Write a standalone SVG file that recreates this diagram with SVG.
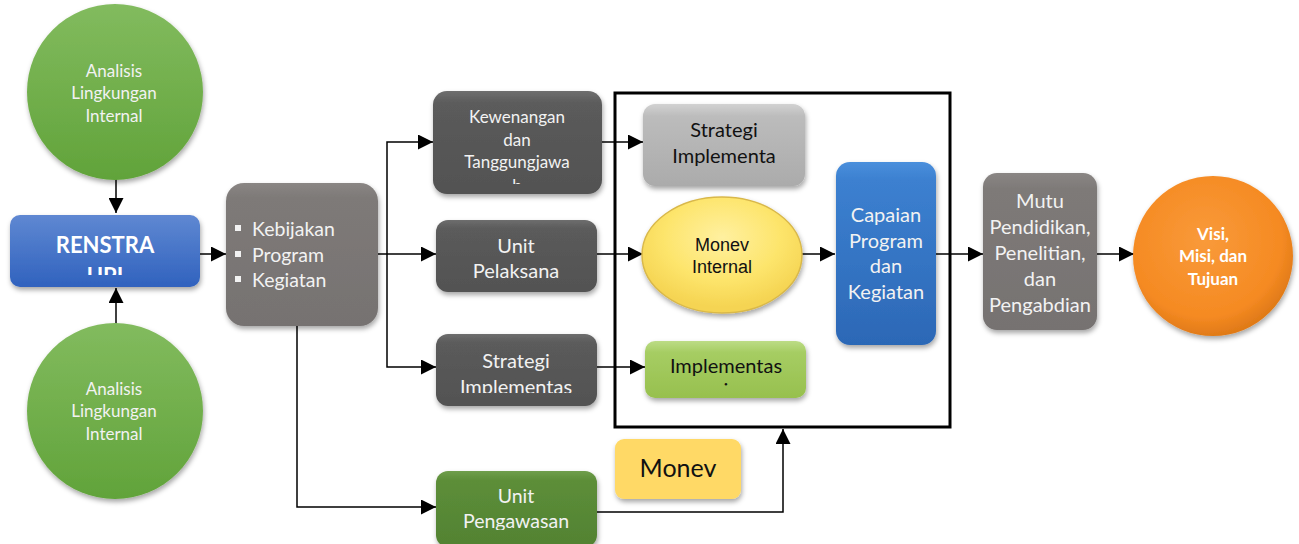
<svg xmlns="http://www.w3.org/2000/svg" width="1299" height="544" viewBox="0 0 1299 544">
<style>
.t{font-family:Lato,"Open Sans","Liberation Sans",sans-serif;text-anchor:middle}
.w{fill:#f2f2f2}
.k{fill:#111}
.c{fill:none;stroke:#000;stroke-width:1.5}
</style>
<defs>
<filter id="sh" x="-20%" y="-20%" width="140%" height="150%">
<feDropShadow dx="1" dy="3" stdDeviation="2.5" flood-color="#000" flood-opacity="0.35"/>
</filter>
<marker id="ar" viewBox="0 0 10 10" refX="10" refY="5" markerWidth="15" markerHeight="15" markerUnits="userSpaceOnUse" orient="auto">
<path d="M0,0 L10,5 L0,10 Z" fill="#000"/>
</marker>
<linearGradient id="gGreen" x1="0" y1="0" x2="0" y2="1"><stop offset="0" stop-color="#82bb5e"/><stop offset="1" stop-color="#61a33a"/></linearGradient>
<linearGradient id="gBlue" x1="0" y1="0" x2="0" y2="1"><stop offset="0" stop-color="#5f88d2"/><stop offset="1" stop-color="#3062be"/></linearGradient>
<linearGradient id="gGray" x1="0" y1="0" x2="0" y2="1"><stop offset="0" stop-color="#8a8684"/><stop offset="0.1" stop-color="#7e7a78"/><stop offset="1" stop-color="#767271"/></linearGradient>
<linearGradient id="gDark" x1="0" y1="0" x2="0" y2="1"><stop offset="0" stop-color="#6e6e6e"/><stop offset="0.12" stop-color="#5b5b5b"/><stop offset="1" stop-color="#525252"/></linearGradient>
<linearGradient id="gLight" x1="0" y1="0" x2="0" y2="1"><stop offset="0" stop-color="#d2d2d2"/><stop offset="0.15" stop-color="#bcbcbc"/><stop offset="1" stop-color="#ababab"/></linearGradient>
<linearGradient id="gLime" x1="0" y1="0" x2="0" y2="1"><stop offset="0" stop-color="#bcdc86"/><stop offset="0.2" stop-color="#a6cd63"/><stop offset="1" stop-color="#97c04e"/></linearGradient>
<linearGradient id="gForest" x1="0" y1="0" x2="0" y2="1"><stop offset="0" stop-color="#6f9e4c"/><stop offset="0.12" stop-color="#5d8e39"/><stop offset="1" stop-color="#528232"/></linearGradient>
<linearGradient id="gCap" x1="0" y1="0" x2="0" y2="1"><stop offset="0" stop-color="#4a8fdc"/><stop offset="0.1" stop-color="#3c80d0"/><stop offset="1" stop-color="#2c68b6"/></linearGradient>
<radialGradient id="gYel" cx="0.5" cy="0.35" r="0.6"><stop offset="0" stop-color="#fff0a0"/><stop offset="0.6" stop-color="#fde56c"/><stop offset="1" stop-color="#f5d452"/></radialGradient>
<radialGradient id="gOr" cx="0.45" cy="0.4" r="0.6"><stop offset="0" stop-color="#f99a3a"/><stop offset="0.8" stop-color="#f58a22"/><stop offset="1" stop-color="#e07a18"/></radialGradient>
<clipPath id="cRen"><rect x="10" y="215" width="190" height="60"/></clipPath>
<clipPath id="cKew"><rect x="433" y="91" width="169" height="93"/></clipPath>
<clipPath id="cStr1"><rect x="643" y="104" width="162" height="82"/></clipPath>
<clipPath id="cStr2"><rect x="436" y="334" width="161" height="59"/></clipPath>
<clipPath id="cImp"><rect x="645" y="340" width="161" height="47"/></clipPath>
<clipPath id="cPeng"><rect x="436" y="471" width="161" height="59"/></clipPath>
</defs>

<g id="connectors">
<path class="c" d="M116,177 V213" marker-end="url(#ar)"/>
<path class="c" d="M116,324 V288" marker-end="url(#ar)"/>
<path class="c" d="M196,254 H226" marker-end="url(#ar)"/>
<path class="c" d="M378,254 H436" marker-end="url(#ar)"/>
<path class="c" d="M387,254 V142 H433" marker-end="url(#ar)"/>
<path class="c" d="M387,254 V367 H436" marker-end="url(#ar)"/>
<path class="c" d="M297,326 V507 H436" marker-end="url(#ar)"/>
<path class="c" d="M601,142 H643" marker-end="url(#ar)"/>
<path class="c" d="M597,254 H643" marker-end="url(#ar)"/>
<path class="c" d="M597,367 H645" marker-end="url(#ar)"/>
<path class="c" d="M802,254 H835" marker-end="url(#ar)"/>
<path class="c" d="M936,254 H983" marker-end="url(#ar)"/>
<path class="c" d="M1097,254 H1134" marker-end="url(#ar)"/>
<path class="c" d="M597,512 H783 V429" marker-end="url(#ar)"/>
</g>

<g id="frame">
<rect x="615" y="93" width="335" height="334" fill="none" stroke="#000" stroke-width="3"/>
</g>

<g id="analisis-top">
<circle cx="115" cy="92" r="88" fill="url(#gGreen)" filter="url(#sh)"/>
<text class="t w" font-size="17"><tspan x="114" y="77">Analisis</tspan><tspan x="114" y="99">Lingkungan</tspan><tspan x="114" y="122">Internal</tspan></text>
</g>

<g id="analisis-bottom">
<circle cx="115" cy="411" r="88" fill="url(#gGreen)" filter="url(#sh)"/>
<text class="t w" font-size="17"><tspan x="114" y="395">Analisis</tspan><tspan x="114" y="417">Lingkungan</tspan><tspan x="114" y="440">Internal</tspan></text>
</g>

<g id="renstra">
<rect x="10" y="215" width="190" height="72" rx="10" fill="url(#gBlue)" filter="url(#sh)"/>
<text class="t" font-size="22" font-weight="bold" fill="#fff" clip-path="url(#cRen)"><tspan x="105" y="253">RENSTRA</tspan><tspan x="105" y="284">UPI</tspan></text>
</g>

<g id="kebijakan">
<rect x="226" y="183" width="152" height="143" rx="18" fill="url(#gGray)" filter="url(#sh)"/>
<g fill="#f2f2f2"><rect x="235" y="225" width="6" height="6"/><rect x="235" y="251" width="6" height="6"/><rect x="235" y="276" width="6" height="6"/></g>
<text class="w" font-family="Lato,'Open Sans','Liberation Sans',sans-serif" font-size="19.5"><tspan x="252" y="236">Kebijakan</tspan><tspan x="252" y="262">Program</tspan><tspan x="252" y="287">Kegiatan</tspan></text>
</g>

<g id="kewenangan">
<rect x="433" y="91" width="169" height="103" rx="14" fill="url(#gDark)" filter="url(#sh)"/>
<text class="t w" font-size="17" clip-path="url(#cKew)"><tspan x="517" y="123">Kewenangan</tspan><tspan x="517" y="146">dan</tspan><tspan x="517" y="168">Tanggungjawa</tspan><tspan x="517" y="192">b</tspan></text>
</g>

<g id="unit-pelaksana">
<rect x="436" y="220" width="161" height="72" rx="12" fill="url(#gDark)" filter="url(#sh)"/>
<text class="t w" font-size="20"><tspan x="516" y="253">Unit</tspan><tspan x="516" y="278">Pelaksana</tspan></text>
</g>

<g id="strategi-implementasi">
<rect x="436" y="334" width="161" height="72" rx="12" fill="url(#gDark)" filter="url(#sh)"/>
<text class="t w" font-size="20" clip-path="url(#cStr2)"><tspan x="516" y="368">Strategi</tspan><tspan x="516" y="394">Implementas</tspan><tspan x="516" y="420">i</tspan></text>
</g>

<g id="unit-pengawasan">
<rect x="436" y="471" width="161" height="76" rx="12" fill="url(#gForest)" filter="url(#sh)"/>
<text class="t w" font-size="19.5" clip-path="url(#cPeng)"><tspan x="516" y="503">Unit</tspan><tspan x="516" y="528">Pengawasan</tspan></text>
</g>

<g id="strategi-implementa">
<rect x="643" y="104" width="162" height="82" rx="12" fill="url(#gLight)" filter="url(#sh)"/>
<text class="t k" font-size="20" clip-path="url(#cStr1)"><tspan x="724" y="137">Strategi</tspan><tspan x="724" y="163">Implementa</tspan></text>
</g>

<g id="monev-internal">
<ellipse cx="722" cy="255" rx="80" ry="58" fill="url(#gYel)" stroke="#d9b84a" stroke-width="1.5" filter="url(#sh)"/>
<text class="k" font-family="'Liberation Sans',Arial,sans-serif" font-size="18" text-anchor="middle"><tspan x="722" y="251">Monev</tspan><tspan x="722" y="273">Internal</tspan></text>
</g>

<g id="implementasi">
<rect x="645" y="341" width="161" height="57" rx="10" fill="url(#gLime)" filter="url(#sh)"/>
<text class="t k" font-size="20" clip-path="url(#cImp)"><tspan x="726" y="373">Implementas</tspan><tspan x="726" y="397">i</tspan></text>
</g>

<g id="capaian">
<rect x="836" y="162" width="100" height="183" rx="14" fill="url(#gCap)" filter="url(#sh)"/>
<text class="t w" font-size="20"><tspan x="886" y="222">Capaian</tspan><tspan x="886" y="248">Program</tspan><tspan x="886" y="273">dan</tspan><tspan x="886" y="299">Kegiatan</tspan></text>
</g>

<g id="monev">
<rect x="615" y="439" width="126" height="60" rx="9" fill="#ffd966" filter="url(#sh)"/>
<text class="t k" font-size="25" x="678" y="477">Monev</text>
</g>

<g id="mutu">
<rect x="983" y="173" width="114" height="157" rx="14" fill="url(#gGray)" filter="url(#sh)"/>
<text class="t w" font-size="20"><tspan x="1040" y="208">Mutu</tspan><tspan x="1040" y="234">Pendidikan,</tspan><tspan x="1040" y="260">Penelitian,</tspan><tspan x="1040" y="286">dan</tspan><tspan x="1040" y="312">Pengabdian</tspan></text>
</g>

<g id="visi">
<circle cx="1213" cy="256" r="80" fill="url(#gOr)" filter="url(#sh)"/>
<text class="t" font-size="17" font-weight="bold" fill="#fff"><tspan x="1213" y="240">Visi,</tspan><tspan x="1213" y="262">Misi, dan</tspan><tspan x="1213" y="285">Tujuan</tspan></text>
</g>
</svg>
